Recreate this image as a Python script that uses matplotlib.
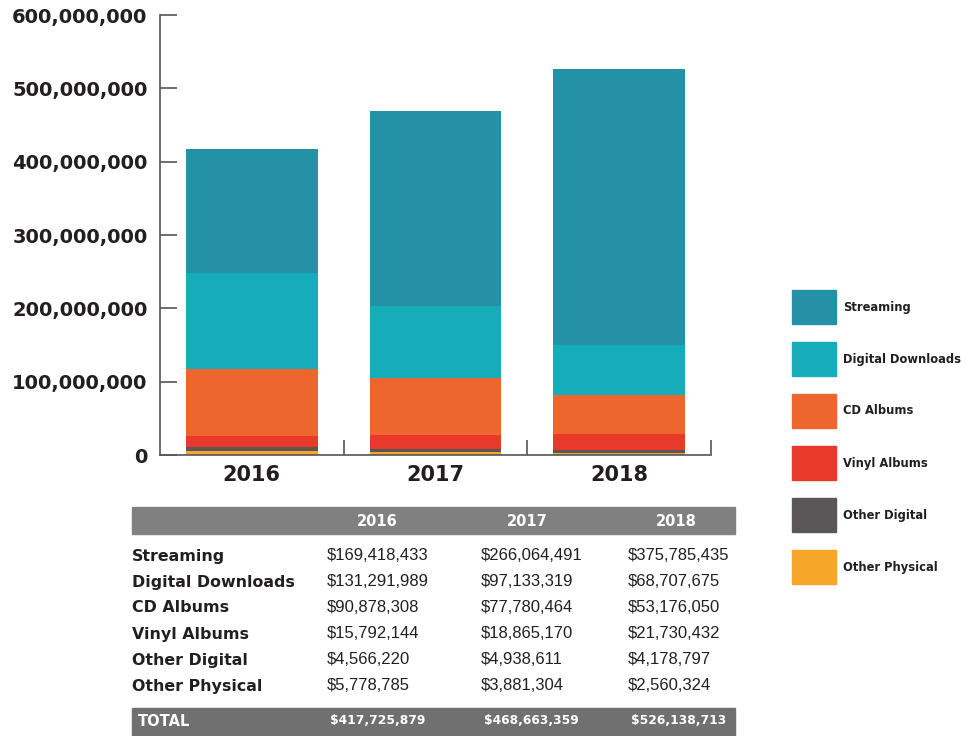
import matplotlib.pyplot as plt
import numpy as np
from matplotlib.patches import Rectangle
from matplotlib.ticker import FuncFormatter

years = ['2016', '2017', '2018']
categories = ['Streaming', 'Digital Downloads', 'CD Albums',
              'Vinyl Albums', 'Other Digital', 'Other Physical']
streaming = [169418433, 266064491, 375785435]
downloads = [131291989, 97133319, 68707675]
cd_albums = [90878308, 77780464, 53176050]
vinyl = [15792144, 18865170, 21730432]
other_digital = [4566220, 4938611, 4178797]
other_physical = [5778785, 3881304, 2560324]
totals = [417725879, 468663359, 526138713]

colors = ['#2591a6', '#17acba', '#ec662e', '#e8392a', '#5a5556', '#f6a72a']

series = [streaming, downloads, cd_albums, vinyl, other_digital, other_physical]

W, H = 966, 736
TXT = '#231f20'
BOLD = 'DejaVu Sans'

fig = plt.figure(figsize=(W / 100, H / 100), dpi=100)
ax = fig.add_axes([160 / W, 1 - 455 / H, (711 - 160) / W, (455 - 15) / H])

# stack from the bottom: other physical first, streaming last
x = np.arange(len(years))
bottom = np.zeros(len(years))
for vals, col in reversed(list(zip(series, colors))):
    ax.bar(x, vals, width=0.717, bottom=bottom, color=col, linewidth=0)
    bottom += np.array(vals)

ax.set_xlim(-0.5, 2.5)
ax.set_ylim(0, 600000000)
ax.set_yticks(np.arange(0, 600000001, 100000000))
ax.yaxis.set_major_formatter(FuncFormatter(lambda v, p: f'{int(v):,}'))
ax.tick_params(axis='y', direction='in', length=12, width=1.2, color='#555555',
               labelsize=14, labelcolor=TXT, pad=9)
for lab in ax.get_yticklabels():
    lab.set_fontweight('bold')

ax.set_xticks(x)
ax.set_xticklabels(years, fontsize=15, fontweight='bold', color=TXT)
ax.tick_params(axis='x', length=0, pad=7)
ax.set_xticks([0.5, 1.5, 2.5], minor=True)
ax.tick_params(axis='x', which='minor', direction='in', length=11, width=1.2,
               color='#555555')

for s in ['top', 'right']:
    ax.spines[s].set_visible(False)
for s in ['left', 'bottom']:
    ax.spines[s].set_color('#555555')
    ax.spines[s].set_linewidth(1.2)

# legend boxes on the right
for i, (name, col) in enumerate(zip(categories, colors)):
    yc = 307 + i * 52
    fig.patches.append(Rectangle((792 / W, 1 - (yc + 17) / H), 44 / W, 34 / H,
                                 transform=fig.transFigure, color=col))
    fig.text(843 / W, 1 - yc / H, name, fontsize=8.3, fontweight='bold',
             family=BOLD, color=TXT, va='center', ha='left')

# data table under the chart
fig.patches.append(Rectangle((132 / W, 1 - 534 / H), (735 - 132) / W, 27 / H,
                             transform=fig.transFigure, color='#808080'))
fig.patches.append(Rectangle((132 / W, 0), (735 - 132) / W, 28 / H,
                             transform=fig.transFigure, color='#707070'))

col_x = [327, 481, 628]
head_x = [377, 527, 676]
for hx, yr in zip(head_x, years):
    fig.text(hx / W, 1 - 521 / H, yr, fontsize=10.5, fontweight='bold', family=BOLD,
             color='white', ha='center', va='center')

for r, (name, vals) in enumerate(zip(categories, series)):
    yr = 556 + r * 26
    fig.text(132 / W, 1 - yr / H, name, fontsize=11.4, fontweight='bold',
             family=BOLD, color=TXT, va='center', ha='left')
    for cx, v in zip(col_x, vals):
        fig.text(cx / W, 1 - yr / H, f'${v:,}', fontsize=12,
                 family='Liberation Sans', color=TXT, va='center', ha='left')

fig.text(138 / W, 1 - 721 / H, 'TOTAL', fontsize=10.5, fontweight='bold',
         family=BOLD, color='white', va='center', ha='left')
for cx, v in zip(col_x, totals):
    fig.text((cx + 3) / W, 1 - 721 / H, f'${v:,}', fontsize=8.8, fontweight='bold',
             family=BOLD, color='white', va='center', ha='left')

fig.savefig('out.png', dpi=100)
